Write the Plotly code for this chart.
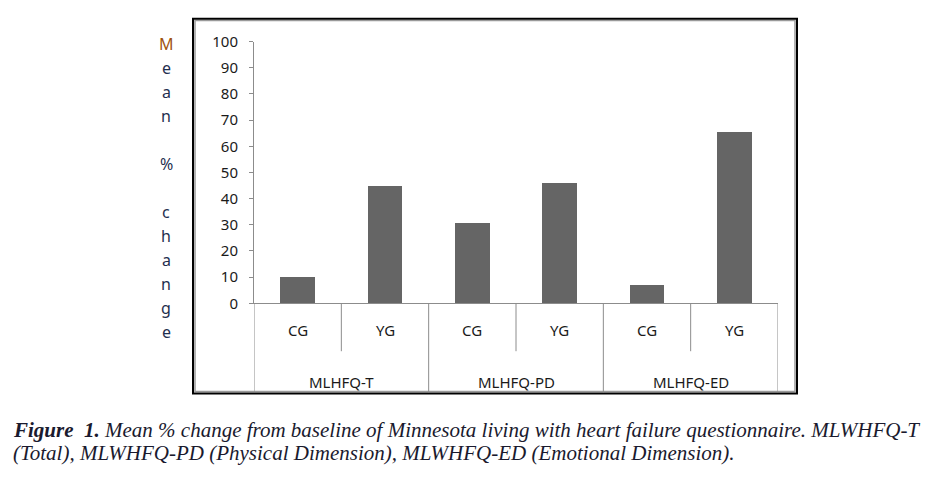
import plotly.graph_objects as go

# ---- data ----
groups = ["MLHFQ-T", "MLHFQ-PD", "MLHFQ-ED"]
subgroups = ["CG", "YG"]
values = [10, 45, 31, 46, 7, 65.5]
y_ticks = list(range(0, 101, 10))
y_title = "Mean % change"
caption_line1 = "<b>Figure  1.</b> Mean % change from baseline of Minnesota living with heart failure questionnaire. MLWHFQ-T"
caption_line2 = "(Total), MLWHFQ-PD (Physical Dimension), MLWHFQ-ED (Emotional Dimension)."

W, H = 941, 480
def px(x):
    return x / W
def py(y):
    return 1 - y / H

n = len(groups) * len(subgroups)
xpos = list(range(n))

fig = go.Figure()
fig.add_trace(go.Bar(x=xpos, y=values, width=0.4, marker=dict(color="#656565", line=dict(width=0)),
                     showlegend=False, hoverinfo="y"))

axis_gray = "#8c8c8c"
tick_font = dict(family="Noto Sans", size=15, color="#1a1a1a")

fig.update_layout(
    width=W, height=H, margin=dict(l=0, r=0, t=0, b=0),
    paper_bgcolor="white", plot_bgcolor="white",
    bargap=0,
    xaxis=dict(domain=[px(254), px(778)], range=[-0.5, n - 0.5], showticklabels=False,
               showgrid=False, zeroline=False, showline=True, linecolor=axis_gray, linewidth=1,
               ticks=""),
    yaxis=dict(domain=[py(305), py(32)], range=[0, 100], tickvals=y_ticks,
               showgrid=False, zeroline=False, showline=True, linecolor=axis_gray, linewidth=1,
               ticks="outside", ticklen=4, tickcolor=axis_gray, tickfont=tick_font,
               ticklabelstandoff=8),
)

shapes = []
# outer frame
shapes.append(dict(type="rect", xref="paper", yref="paper", x0=px(195), x1=px(795), y0=py(397), y1=py(10),
                   line=dict(color="#9a9a9a", width=1.5)))
shapes.append(dict(type="rect", xref="paper", yref="paper", x0=px(193), x1=px(797), y0=py(399), y1=py(8),
                   line=dict(color="black", width=2)))
# inner separators (between subgroups)
for g in range(len(groups)):
    xs = g * len(subgroups) + 0.5
    shapes.append(dict(type="line", xref="x", yref="paper", x0=xs, x1=xs, y0=py(305), y1=py(355),
                       line=dict(color=axis_gray, width=1)))
# outer separators (group boundaries)
for g in range(len(groups) + 1):
    xs = g * len(subgroups) - 0.5
    shapes.append(dict(type="line", xref="x", yref="paper", x0=xs, x1=xs, y0=py(305), y1=py(398),
                       line=dict(color=axis_gray, width=1)))
fig.update_layout(shapes=shapes)

lab_font = dict(family="Noto Sans", size=15, color="#1a1a1a")
annotations = []
for i in range(n):
    annotations.append(dict(x=i, y=py(333), xref="x", yref="paper", text=subgroups[i % len(subgroups)],
                            showarrow=False, font=lab_font, xanchor="center", yanchor="middle"))
for g, name in enumerate(groups):
    annotations.append(dict(x=g * len(subgroups) + 0.5, y=py(387), xref="x", yref="paper", text=name,
                            showarrow=False, font=lab_font, xanchor="center", yanchor="middle"))

# vertical stacked y title
ytop = 34
for k, ch in enumerate(y_title):
    if ch == " ":
        continue
    col = "#a0520f" if k == 0 else "#1f2f4f"
    annotations.append(dict(x=px(166), y=py(ytop + 25.1 * k), xref="paper", yref="paper", text=ch,
                            showarrow=False, font=dict(family="Noto Sans", size=16, color=col),
                            xanchor="center", yanchor="middle"))

cap_font = dict(family="Liberation Serif", size=21, color="#1a1a2e")
annotations.append(dict(x=px(11), y=py(437), xref="paper", yref="paper", text="<i>" + caption_line1 + "</i>",
                        showarrow=False, font=cap_font, xanchor="left", yanchor="middle"))
annotations.append(dict(x=px(11), y=py(461), xref="paper", yref="paper", text="<i>" + caption_line2 + "</i>",
                        showarrow=False, font=cap_font, xanchor="left", yanchor="middle"))
fig.update_layout(annotations=annotations)

fig.write_html("out.html")
